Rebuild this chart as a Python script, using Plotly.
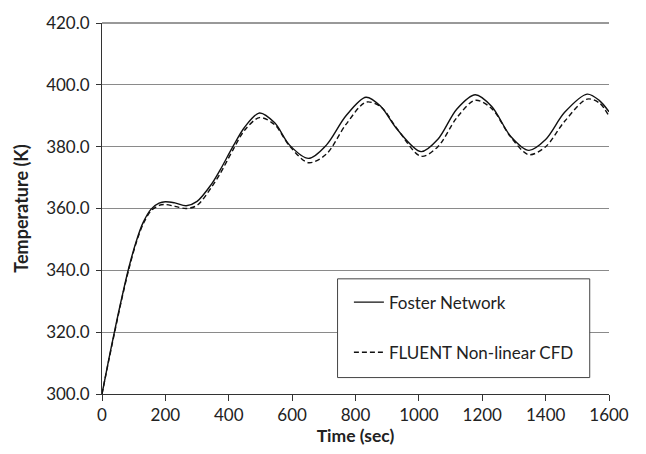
import plotly.graph_objects as go

# time (s)
time_s = [0, 20, 40, 60, 85, 110, 130, 155, 180, 200, 230, 266, 300, 345, 373, 413,
          450, 497, 545, 592, 652, 708, 770, 833, 880, 930, 1007, 1060, 1120, 1178,
          1230, 1290, 1347, 1400, 1460, 1531, 1570, 1600]

foster = [300.0, 310.5, 320.5, 330.0, 341.0, 350.0, 355.5, 359.8, 361.7, 362.2, 361.8,
          360.9, 362.3, 367.8, 372.5, 380.0, 386.3, 390.9, 387.7, 380.5, 376.2, 380.5,
          390.0, 396.0, 393.0, 385.8, 378.4, 382.4, 392.2, 396.8, 393.0, 383.3, 378.8,
          382.3, 391.1, 397.0, 394.9, 391.3]

fluent = [300.0, 310.2, 320.0, 329.6, 340.5, 349.6, 355.0, 359.3, 361.0, 361.3, 360.7,
          360.0, 361.0, 366.8, 371.3, 378.9, 385.3, 389.4, 387.1, 380.2, 374.8, 377.6,
          387.2, 394.4, 392.9, 386.0, 376.9, 380.0, 389.4, 395.0, 392.3, 383.1, 377.4,
          380.0, 388.2, 395.4, 394.1, 389.9]

series_names = ["Foster Network", "FLUENT Non-linear CFD"]
x_ticks = [0, 200, 400, 600, 800, 1000, 1200, 1400, 1600]
y_ticks = [300, 320, 340, 360, 380, 400, 420]

FONT = "Lato, 'Open Sans', sans-serif"

fig = go.Figure()
fig.add_trace(go.Scatter(x=time_s, y=foster, mode="lines", name=series_names[0],
                         legendgroup="a",
                         line=dict(color="#111111", width=1.4, shape="spline", smoothing=0.9)))
fig.add_trace(go.Scatter(x=time_s, y=fluent, mode="lines", name=series_names[1],
                         legendgroup="b",
                         line=dict(color="#111111", width=1.4, dash="5px,3px",
                                   shape="spline", smoothing=0.9)))

fig.update_layout(
    width=646, height=454,
    margin=dict(l=102, r=37, t=17, b=57),
    paper_bgcolor="white", plot_bgcolor="white",
    font=dict(family=FONT, size=17, color="#222222"),
    showlegend=True,
    legend=dict(x=0.487, y=0.295, xanchor="left", yanchor="top",
                bgcolor="rgba(0,0,0,0)", borderwidth=0,
                font=dict(family=FONT, size=17, color="#222222"),
                tracegroupgap=25, itemwidth=30),
    xaxis=dict(range=[0, 1600], tickvals=x_ticks, ticks="outside", ticklen=6,
               tickcolor="#333333", showline=True, linecolor="#333333", linewidth=1,
               showgrid=False, zeroline=False,
               tickfont=dict(family=FONT, size=17, color="#222222"),
               title=dict(text="<b>Time (sec)</b>", standoff=4,
                          font=dict(family=FONT, size=17.5, color="#222222"))),
    yaxis=dict(range=[300, 420], tickvals=y_ticks, tickformat=".1f", ticks="outside",
               ticklen=5, tickcolor="#333333", showline=True, linecolor="#333333",
               linewidth=1, showgrid=True, gridcolor="#8a8a8a", gridwidth=1,
               zeroline=False, ticklabelstandoff=3,
               tickfont=dict(family=FONT, size=17, color="#222222"),
               title=dict(text="<b>Temperature (K)</b>", standoff=12,
                          font=dict(family=FONT, size=18, color="#222222"))),
    shapes=[
        dict(type="line", xref="paper", yref="paper", x0=0, x1=1, y0=1, y1=1,
             line=dict(color="#333333", width=1)),
        dict(type="rect", xref="paper", yref="paper", x0=0.4646, x1=0.962,
             y0=0.0443, y1=0.3104, fillcolor="white",
             line=dict(color="#444444", width=1), layer="above"),
    ],
)

fig.write_html("out.html")
